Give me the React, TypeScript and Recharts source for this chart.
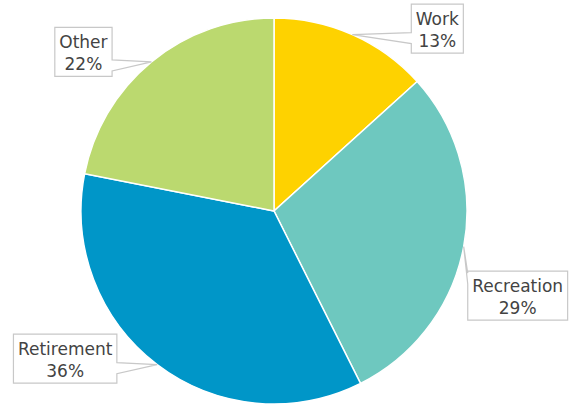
import React from "react";
import { PieChart, Pie, Cell } from "recharts";

const categories = ["Work", "Recreation", "Retirement", "Other"];
const shares = [13.3, 29.3, 35.5, 21.9];
const colors = ["#FED200", "#6EC8BF", "#0096C8", "#BBD96F"];

const data = categories.map((name, i) => ({ name, value: shares[i] }));

// callout box centre, relative to the point on the rim it points at
const calloutOffset: Record<string, [number, number]> = {
  Work: [85, -6],
  Recreation: [54, 49],
  Retirement: [-92, -6],
  Other: [-68, -10],
};

const FONT = "17px 'DejaVu Sans'";
const RAD = Math.PI / 180;

let ctx: CanvasRenderingContext2D | null = null;
function textWidth(s: string) {
  if (!ctx) ctx = document.createElement("canvas").getContext("2d");
  if (!ctx) return s.length * 9;
  ctx.font = FONT;
  return ctx.measureText(s).width;
}

function Callout(props: any) {
  const { cx, cy, midAngle, outerRadius, name, value } = props;
  const tx = cx + outerRadius * Math.cos(-midAngle * RAD);
  const ty = cy + outerRadius * Math.sin(-midAngle * RAD);
  const [dx, dy] = calloutOffset[name] || [0, 0];
  const label2 = `${Math.round(value)}%`;
  const w = Math.max(textWidth(name), textWidth(label2)) + 9;
  const h = 49;
  const bx = tx + dx - w / 2;
  const by = ty + dy - h / 2;
  const clamp = (v: number, lo: number, hi: number) => Math.min(Math.max(v, lo), hi);

  let d: string;
  if (tx < bx || tx > bx + w) {
    const b1 = clamp(ty - 2, by + 2, by + h - 13);
    const b2 = b1 + 11;
    if (tx < bx) {
      d = `M${bx},${by} L${bx + w},${by} L${bx + w},${by + h} L${bx},${by + h} L${bx},${b2} L${tx},${ty} L${bx},${b1} Z`;
    } else {
      d = `M${bx},${by} L${bx + w},${by} L${bx + w},${b1} L${tx},${ty} L${bx + w},${b2} L${bx + w},${by + h} L${bx},${by + h} Z`;
    }
  } else {
    const a1 = bx + 17;
    const a2 = bx + 44;
    d = `M${bx},${by} L${a1},${by} L${tx},${ty} L${a2},${by} L${bx + w},${by} L${bx + w},${by + h} L${bx},${by + h} Z`;
  }

  const mid = bx + w / 2;
  return (
    <g>
      <path d={d} fill="#ffffff" stroke="#c8c8c8" strokeWidth={1.2} />
      <text textAnchor="middle" fill="#434343" style={{ font: FONT }}>
        <tspan x={mid} y={by + 20.5}>{name}</tspan>
        <tspan x={mid} y={by + 42.5}>{label2}</tspan>
      </text>
    </g>
  );
}

export default function App() {
  return (
    <div style={{ position: "absolute", left: 0, top: 0, background: "#fff" }}>
      <PieChart
        width={571}
        height={406}
        margin={{ top: 0, right: 0, bottom: 0, left: 0 }}
      >
        <Pie
          data={data}
          dataKey="value"
          nameKey="name"
          cx={274}
          cy={211}
          outerRadius={193}
          startAngle={90}
          endAngle={-270}
          stroke="#ffffff"
          strokeWidth={1.5}
          labelLine={false}
          label={Callout}
          isAnimationActive={false}
        >
          {data.map((d, i) => (
            <Cell key={d.name} fill={colors[i]} />
          ))}
        </Pie>
      </PieChart>
    </div>
  );
}
